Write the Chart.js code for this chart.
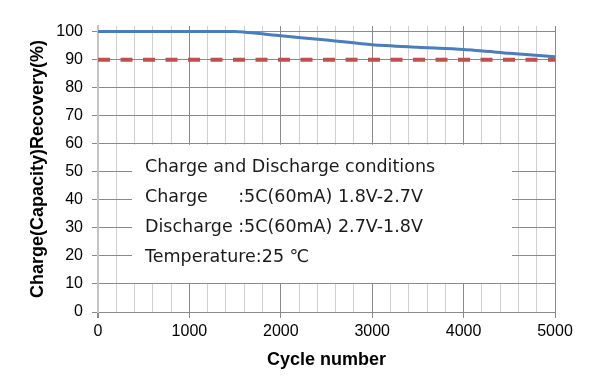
<!DOCTYPE html>
<html>
<head>
<meta charset="utf-8">
<script src="https://cdn.jsdelivr.net/npm/chart.js@4/dist/chart.umd.min.js"></script>
<style>
html,body{margin:0;padding:0;background:#fff;}
#wrap{width:600px;height:383px;}
</style>
</head>
<body>
<div id="wrap"><canvas id="c" width="600" height="383"></canvas></div>
<script>
const cycles = [0, 500, 1000, 1500, 2000, 2500, 3000, 3500, 4000, 4500, 5000];
const recovery = [100, 100, 100, 100, 98.5, 97.0, 95.3, 94.4, 93.6, 92.3, 91.0];
const limitCycles = [0, 5000];
const limitValues = [90, 90];
const yTickValues = [0, 10, 20, 30, 40, 50, 60, 70, 80, 90, 100];
const xTitle = 'Cycle number';
const yTitle = 'Charge(Capacity)Recovery(%)';
const noteLines = [
  ['Charge and Discharge conditions', ''],
  ['Charge', ':5C(60mA) 1.8V-2.7V'],
  ['Discharge ', ':5C(60mA) 2.7V-1.8V'],
  ['Temperature:25 ℃', '']
];

const notePlugin = {
  id: 'note',
  beforeDatasetsDraw(chart) {
    const ctx = chart.ctx;
    const xs = chart.scales.x, ys = chart.scales.y;
    const l = xs.getPixelForValue(372), r = xs.getPixelForValue(4530);
    const t = ys.getPixelForValue(60) + 1, b = ys.getPixelForValue(10) - 1;
    ctx.save();
    ctx.fillStyle = '#fff';
    ctx.fillRect(l, t, r - l, b - t);
    ctx.fillStyle = '#1a1a1a';
    ctx.font = '17.5px "DejaVu Sans"';
    ctx.textBaseline = 'middle';
    const x0 = l + 13;
    const colonX = x0 + ctx.measureText('Discharge ').width;
    const rows = [167, 197, 227, 257];
    noteLines.forEach((ln, i) => {
      ctx.fillText(ln[0], x0, rows[i]);
      if (ln[1]) ctx.fillText(ln[1], colonX, rows[i]);
    });
    ctx.restore();
  }
};

new Chart(document.getElementById('c'), {
  type: 'line',
  data: {
    datasets: [
      {
        data: cycles.map((c, i) => ({x: c, y: recovery[i]})),
        borderColor: '#4A7EBB', borderWidth: 3, pointRadius: 0, tension: 0.25, fill: false
      },
      {
        data: limitCycles.map((c, i) => ({x: c, y: limitValues[i]})),
        borderColor: '#C0504D', borderWidth: 4, borderDash: [12, 10.5], pointRadius: 0, fill: false
      }
    ]
  },
  options: {
    responsive: false,
    animation: false,
    devicePixelRatio: 1,
    layout: {padding: {left: 0, right: 45, top: 26, bottom: 12}},
    plugins: {legend: {display: false}, tooltip: {enabled: false}},
    scales: {
      x: {
        type: 'linear', min: 0, max: 5000,
        ticks: {
          stepSize: 200, autoSkip: false, maxRotation: 0,
          font: {family: 'Liberation Sans', size: 16}, color: '#000', padding: 4,
          callback: v => (v % 1000 === 0 ? String(v) : '')
        },
        grid: {
          color: ctx => (ctx.tick && ctx.tick.value === 0 ? '#c4c4c4' : (ctx.tick && ctx.tick.value % 1000 === 0 ? '#8a8a8a' : '#cfcfcf')),
          lineWidth: ctx => (ctx.tick && ctx.tick.value === 0 ? 2 : 1),
          tickColor: ctx => (ctx.tick && ctx.tick.value % 1000 === 0 ? '#8a8a8a' : 'rgba(0,0,0,0)'),
          tickLength: 6
        },
        border: {display: true, color: '#8a8a8a', width: 1},
        title: {display: true, text: xTitle, font: {family: 'Liberation Sans', size: 18, weight: 'bold'}, color: '#000', padding: {top: 3, bottom: 0}},
        afterFit: s => { s.height = 59; }
      },
      y: {
        min: 0, max: 102,
        afterBuildTicks: s => { s.ticks = yTickValues.map(v => ({value: v})); },
        ticks: {font: {family: 'Liberation Sans', size: 16}, color: '#000', padding: 9},
        grid: {color: '#8a8a8a', lineWidth: 1, tickColor: '#8a8a8a', tickLength: 6},
        border: {display: true, color: '#c4c4c4', width: 2},
        title: {display: true, text: yTitle, font: {family: 'Liberation Sans', size: 18, weight: 'bold'}, color: '#000', padding: {top: 27, bottom: 4}},
        afterFit: s => { s.width = 98; }
      }
    }
  },
  plugins: [notePlugin]
});
</script>
</body>
</html>
